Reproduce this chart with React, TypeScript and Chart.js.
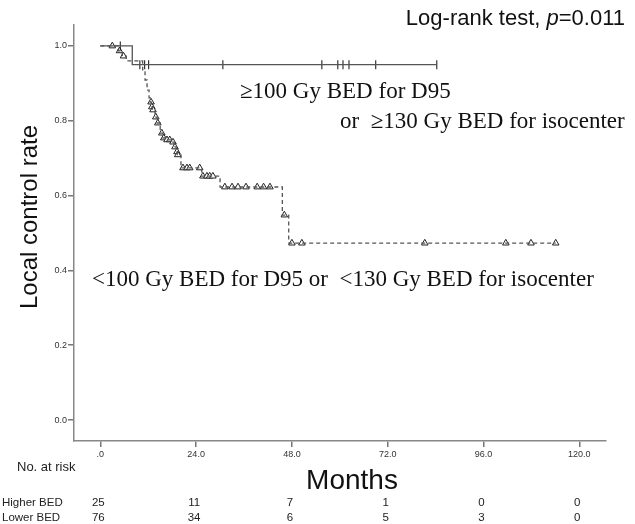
import React, { useEffect, useRef } from 'react';
import { Chart, registerables } from 'chart.js';

Chart.register(...registerables);

// Axis ticks
const xTickValues = [0, 24, 48, 72, 96, 120];
const xTickLabels = ['.0', '24.0', '48.0', '72.0', '96.0', '120.0'];
const yTickValues = [0, 0.2, 0.4, 0.6, 0.8, 1.0];
const yTickLabels = ['0.0', '0.2', '0.4', '0.6', '0.8', '1.0'];

// Higher BED group (solid line, vertical tick censor marks)
const higherStepTimes = [0, 8, 84.3];
const higherStepSurv = [1, 0.95, 0.95];
const higherCensorTimes = [5, 9.9, 11.1, 12.1, 30.7, 55.5, 59.5, 60.8, 62.3, 69, 84.3];
const higherCensorSurv = [1, 0.95, 0.95, 0.95, 0.95, 0.95, 0.95, 0.95, 0.95, 0.95, 0.95];

// Lower BED group (dashed line, triangle censor marks)
const lowerStepTimes = [0, 4.5, 5.5, 6.5, 10.6, 11.2, 11.7, 12.2, 12.5, 12.8, 13.05, 13.7, 14.2, 15.0, 15.7, 16.5, 18.0, 18.5, 19.0, 19.3, 20.2, 25.4, 30.0, 45.6, 47.2, 114.1];
const lowerStepSurv = [1, 0.987, 0.973, 0.96, 0.936, 0.909, 0.882, 0.861, 0.85, 0.837, 0.829, 0.81, 0.794, 0.767, 0.754, 0.749, 0.743, 0.73, 0.717, 0.709, 0.674, 0.652, 0.623, 0.548, 0.473, 0.473];
const lowerCensorTimes = [3, 4.8, 5.8, 12.7, 12.9, 13.2, 13.9, 14.4, 15.4, 15.9, 16.7, 17.4, 18.2, 18.7, 19.2, 19.4, 20.7, 21.7, 22.4, 24.9, 25.7, 26.7, 27.4, 28.2, 31.2, 33, 34.5, 36.5, 39.3, 40.9, 42.5, 46.1, 48, 50.5, 81.3, 101.6, 107.9, 114.1];
const lowerCensorSurv = [1, 0.987, 0.973, 0.85, 0.837, 0.829, 0.81, 0.794, 0.767, 0.754, 0.749, 0.749, 0.743, 0.73, 0.717, 0.709, 0.674, 0.674, 0.674, 0.674, 0.652, 0.652, 0.652, 0.652, 0.623, 0.623, 0.623, 0.623, 0.623, 0.623, 0.623, 0.548, 0.473, 0.473, 0.473, 0.473, 0.473, 0.473];

// Number at risk table
const atRiskTimes = [0, 24, 48, 72, 96, 120];
const higherAtRisk = [25, 11, 7, 1, 0, 0];
const lowerAtRisk = [76, 34, 6, 5, 3, 0];

const toPoints = (xs: number[], ys: number[]) => xs.map((x, i) => ({ x, y: ys[i] }));

const SANS = '"Liberation Sans", Arial, sans-serif';
const SERIF = '"Liberation Serif", "Times New Roman", serif';

const textPlugin = {
  id: 'kmTexts',
  afterDraw(chart: any) {
    const { ctx } = chart;
    const xs = chart.scales.x;
    ctx.save();
    ctx.fillStyle = '#111';

    // Y axis title
    ctx.save();
    ctx.translate(30, 217);
    ctx.rotate(-Math.PI / 2);
    ctx.font = `24px ${SANS}`;
    ctx.textAlign = 'center';
    ctx.textBaseline = 'middle';
    ctx.fillText('Local control rate', 0, 0);
    ctx.restore();

    // X axis title
    ctx.font = `28px ${SANS}`;
    ctx.textAlign = 'center';
    ctx.textBaseline = 'middle';
    ctx.fillText('Months', 352, 481);

    // Log-rank test header with italic p
    ctx.textBaseline = 'alphabetic';
    ctx.textAlign = 'left';
    const parts: [string, string][] = [
      ['Log-rank test, ', `22px ${SANS}`],
      ['p', `italic 22px ${SANS}`],
      ['=0.011', `22px ${SANS}`],
    ];
    let total = 0;
    parts.forEach(([t, f]) => { ctx.font = f; total += ctx.measureText(t).width; });
    let px = 625 - total;
    parts.forEach(([t, f]) => { ctx.font = f; ctx.fillText(t, px, 25); px += ctx.measureText(t).width; });

    // Group annotations
    ctx.font = `23px ${SERIF}`;
    ctx.textBaseline = 'middle';
    ctx.fillText('\u2265100 Gy BED for D95', 240, 92);
    ctx.fillText('or  \u2265130 Gy BED for isocenter', 340, 122);
    ctx.fillText('<100 Gy BED for D95 or  <130 Gy BED for isocenter', 92, 280);

    // Number at risk table
    ctx.fillStyle = '#222';
    ctx.font = `13px ${SANS}`;
    ctx.textAlign = 'left';
    ctx.fillText('No. at risk', 17, 467);
    ctx.font = `11.5px ${SANS}`;
    ctx.fillText('Higher BED', 2, 503);
    ctx.fillText('Lower BED', 2, 518);
    ctx.textAlign = 'center';
    atRiskTimes.forEach((t, i) => {
      const cx = xs.getPixelForValue(t) - 2;
      ctx.fillText(String(higherAtRisk[i]), cx, 503);
      ctx.fillText(String(lowerAtRisk[i]), cx, 518);
    });
    ctx.restore();
  },
};

export default function App() {
  const ref = useRef<HTMLCanvasElement>(null);

  useEffect(() => {
    document.body.style.margin = '0';
    const canvas = ref.current!;
    const chart = new Chart(canvas, {
      type: 'scatter',
      data: {
        datasets: [
          {
            data: toPoints(higherStepTimes, higherStepSurv),
            showLine: true,
            stepped: true,
            borderColor: '#555',
            borderWidth: 1.3,
            pointRadius: 0,
          },
          {
            data: toPoints(lowerStepTimes, lowerStepSurv),
            showLine: true,
            stepped: true,
            borderColor: '#555',
            borderWidth: 1.3,
            borderDash: [4, 3],
            pointRadius: 0,
          },
          {
            data: toPoints(higherCensorTimes, higherCensorSurv),
            showLine: false,
            pointStyle: 'line',
            rotation: 90,
            pointRadius: 4.5,
            borderColor: '#222',
            borderWidth: 1.1,
          },
          {
            data: toPoints(lowerCensorTimes, lowerCensorSurv),
            showLine: false,
            pointStyle: 'triangle',
            pointRadius: 3.8,
            borderColor: '#222',
            backgroundColor: '#fff',
            borderWidth: 1,
          },
        ],
      },
      options: {
        responsive: false,
        animation: false,
        events: [],
        layout: { padding: { top: 25, right: 29, left: 0, bottom: 0 } },
        plugins: { legend: { display: false }, tooltip: { enabled: false } },
        scales: {
          x: {
            type: 'linear',
            min: -6.6,
            max: 126.7,
            afterBuildTicks: (s: any) => { s.ticks = xTickValues.map((v) => ({ value: v })); },
            afterFit: (s: any) => { s.height = 83; },
            ticks: {
              autoSkip: false,
              maxRotation: 0,
              padding: 2,
              color: '#333',
              font: { family: SANS, size: 9 },
              callback: (v: any) => xTickLabels[xTickValues.indexOf(Number(v))] ?? '',
            },
            grid: { drawOnChartArea: false, tickLength: 6, color: '#777', lineWidth: 1.5 },
            border: { display: true, color: '#888', width: 1.5 },
          },
          y: {
            type: 'linear',
            min: -0.056,
            max: 1.056,
            afterBuildTicks: (s: any) => { s.ticks = yTickValues.map((v) => ({ value: v })); },
            afterFit: (s: any) => { s.width = 74; },
            ticks: {
              padding: 1,
              color: '#333',
              font: { family: SANS, size: 9 },
              callback: (v: any) => {
                const i = yTickValues.findIndex((t) => Math.abs(t - Number(v)) < 1e-6);
                return i >= 0 ? yTickLabels[i] : '';
              },
            },
            grid: { drawOnChartArea: false, tickLength: 6, color: '#777', lineWidth: 1.5 },
            border: { display: true, color: '#888', width: 1.5 },
          },
        },
      },
      plugins: [textPlugin],
    } as any);
    return () => chart.destroy();
  }, []);

  return (
    <canvas
      ref={ref}
      width={635}
      height={524}
      style={{ position: 'fixed', left: 0, top: 0, width: 635, height: 524 }}
    />
  );
}
